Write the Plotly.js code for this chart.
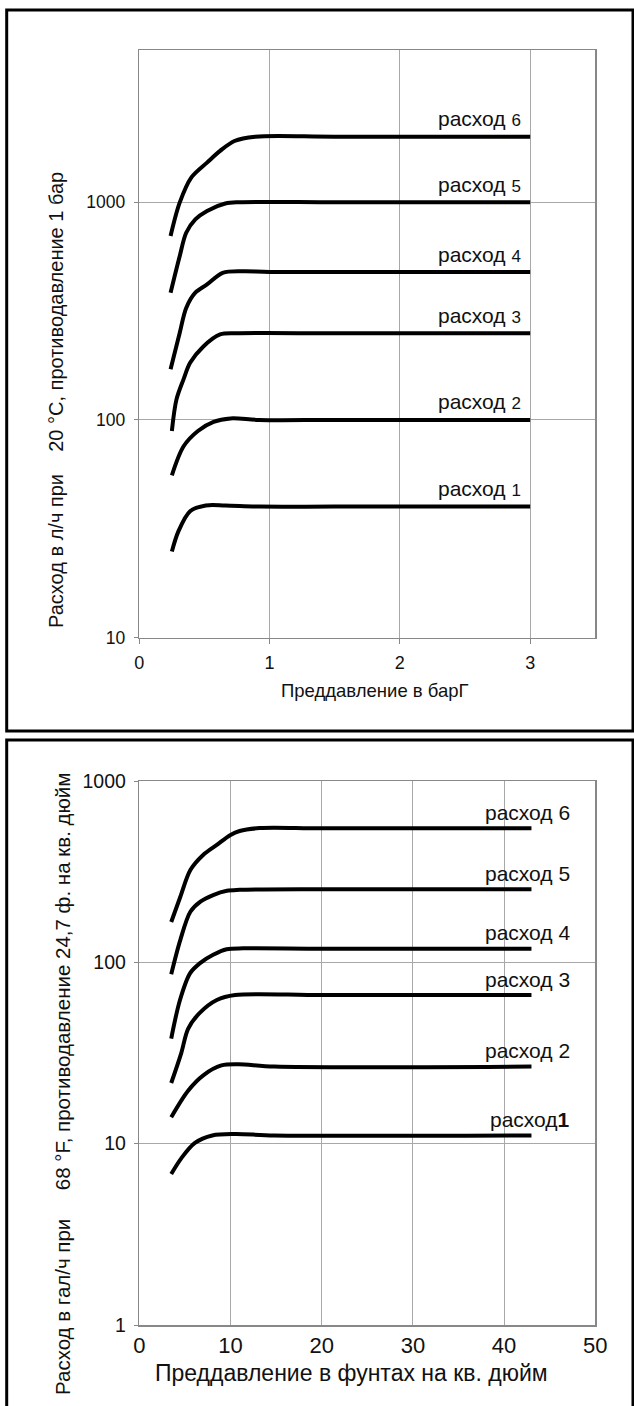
<!DOCTYPE html>
<html>
<head>
<meta charset="utf-8">
<script src="https://cdn.plot.ly/plotly-3.0.1.min.js"></script>
<style>
html,body{margin:0;padding:0;background:#fff;}
#chart{width:634px;height:1406px;}
</style>
</head>
<body>
<div id="chart"></div>
<script>
// ---------- DATA: top chart (bar vs l/h) ----------
const barX1 = [0.25, 0.30, 0.39, 0.51, 0.66, 0.92, 1.5, 3.0];
const lph1  = [24.9, 30.8, 38.1, 40.5, 40.5, 40, 40, 40];
const barX2 = [0.25, 0.34, 0.45, 0.57, 0.70, 0.92, 1.5, 3.0];
const lph2  = [55.7, 75.7, 89, 98, 101.6, 100, 100, 100];
const barX3 = [0.25, 0.285, 0.34, 0.39, 0.49, 0.62, 0.77, 1.5, 3.0];
const lph3  = [89, 124, 154, 183, 217, 247, 250, 250, 250];
const barX4 = [0.24, 0.31, 0.36, 0.43, 0.52, 0.64, 0.80, 1.0, 3.0];
const lph4  = [171, 251, 327, 384, 419, 474, 482, 478, 478];
const barX5 = [0.24, 0.31, 0.36, 0.43, 0.52, 0.66, 0.77, 1.5, 3.0];
const lph5  = [384, 565, 724, 834, 912, 986, 1000, 1000, 1000];
const barX6 = [0.24, 0.31, 0.40, 0.52, 0.62, 0.73, 0.89, 1.5, 3.0];
const lph6  = [700, 995, 1300, 1520, 1720, 1910, 2000, 2000, 2000];

// ---------- DATA: bottom chart (psi vs gal/h) ----------
const psiX1 = [3.5, 4.6, 6.1, 8.0, 10.5, 14.8, 43];
const gph1  = [6.8, 8.3, 10.1, 11.1, 11.3, 11.1, 11.1];
const psiX2 = [3.5, 5.35, 7.05, 9.0, 10.9, 14.8, 43];
const gph2  = [14.0, 19.6, 23.9, 27, 27.4, 26.6, 26.6];
const psiX3 = [3.5, 4.6, 5.35, 6.6, 8.5, 10.5, 20, 43];
const gph3  = [21.6, 31.6, 43, 52.5, 62, 66, 66, 66];
const psiX4 = [3.5, 4.46, 5.56, 6.66, 8.1, 9.58, 11.4, 20, 43];
const gph4  = [38, 62, 87, 99, 110, 118, 119.5, 119, 119];
const psiX5 = [3.5, 4.5, 5.6, 6.7, 8.1, 9.6, 11.0, 20, 43];
const gph5  = [86, 133, 190, 216, 235, 248, 251, 253, 253];
const psiX6 = [3.5, 4.5, 5.6, 7.0, 8.5, 10.0, 11.0, 13.2, 20, 43];
const gph6  = [167, 230, 323, 391, 444, 504, 530, 550, 548, 548];

// ---------- tick labels & texts ----------
const barTicks = [0, 1, 2, 3];
const lphTicks = [10, 100, 1000];
const psiTicks = [0, 10, 20, 30, 40, 50];
const gphTicks = [1, 10, 100, 1000];
const flowWord = 'расход';
const flowDigits = ['1', '2', '3', '4', '5', '6'];
const topXTitle = 'Преддавление в барГ';
const topYTitle = 'Расход в л/ч при\u00A0\u00A0\u00A0 20 °С, противодавление 1 бар';
const botXTitle = 'Преддавление в фунтах на кв. дюйм';
const botYTitle = 'Расход в гал/ч при\u00A0\u00A0\u00A0\u00A0 68 °F, противодавление 24,7 ф. на кв. дюйм';

// ---------- layout helpers (pixel -> paper) ----------
const W = 634, H = 1406;
const px = v => v / W;
const py = v => 1 - v / H;
const FONT = 'Liberation Sans, Arial, sans-serif';

const topSeries = [[barX1, lph1], [barX2, lph2], [barX3, lph3], [barX4, lph4], [barX5, lph5], [barX6, lph6]];
const botSeries = [[psiX1, gph1], [psiX2, gph2], [psiX3, gph3], [psiX4, gph4], [psiX5, gph5], [psiX6, gph6]];

const lineStyle = {color: '#000', width: 4, shape: 'spline', smoothing: 0.9};
const traces = [];
topSeries.forEach(s => traces.push({x: s[0], y: s[1], xaxis: 'x', yaxis: 'y', mode: 'lines', line: lineStyle, hoverinfo: 'skip', showlegend: false}));
botSeries.forEach(s => traces.push({x: s[0], y: s[1], xaxis: 'x2', yaxis: 'y2', mode: 'lines', line: lineStyle, hoverinfo: 'skip', showlegend: false}));

const annotations = [];
topSeries.forEach((s, i) => {
  annotations.push({
    xref: 'x', yref: 'y', x: s[0][s[0].length - 1], y: Math.log10(s[1][s[1].length - 1]),
    text: flowWord + ' <span style="font-size:17px">' + flowDigits[i] + '</span>',
    showarrow: false, xanchor: 'right', yanchor: 'middle', xshift: -7, yshift: 18,
    font: {family: FONT, size: 21, color: '#111'}
  });
});
botSeries.forEach((s, i) => {
  const txt = i === 0 ? flowWord + '<b>' + flowDigits[i] + '</b>' : flowWord + ' ' + flowDigits[i];
  annotations.push({
    xref: 'x2', yref: 'y2', x: s[0][s[0].length - 1], y: Math.log10(s[1][s[1].length - 1]),
    text: txt, showarrow: false, xanchor: 'right', yanchor: 'middle', xshift: 41, yshift: 16,
    font: {family: FONT, size: 21, color: '#111'}
  });
});
// axis titles
annotations.push({xref: 'paper', yref: 'paper', x: px(375), y: py(690), text: topXTitle, showarrow: false,
  xanchor: 'center', yanchor: 'middle', font: {family: FONT, size: 18.5, color: '#111'}});
annotations.push({xref: 'paper', yref: 'paper', x: px(56), y: py(400), text: topYTitle, showarrow: false, textangle: -90,
  xanchor: 'center', yanchor: 'middle', font: {family: FONT, size: 20, color: '#111'}});
annotations.push({xref: 'paper', yref: 'paper', x: px(351), y: py(1373), text: botXTitle, showarrow: false,
  xanchor: 'center', yanchor: 'middle', font: {family: FONT, size: 23, color: '#111'}});
annotations.push({xref: 'paper', yref: 'paper', x: px(62), y: py(1084), text: botYTitle, showarrow: false, textangle: -90,
  xanchor: 'center', yanchor: 'middle', font: {family: FONT, size: 20.5, color: '#111'}});

const GRID = '#a8a8a8', FRAME = '#888';
const baseAxis = {showgrid: true, gridcolor: GRID, gridwidth: 1, showline: true, mirror: true, linecolor: FRAME, linewidth: 1.5,
  zeroline: false, tickcolor: FRAME, fixedrange: true};

const layout = {
  width: W, height: H, margin: {l: 0, r: 0, t: 0, b: 0},
  paper_bgcolor: '#fff', plot_bgcolor: '#fff', showlegend: false,
  font: {family: FONT, color: '#111'},
  xaxis: Object.assign({}, baseAxis, {domain: [px(139.3), px(595.3)], anchor: 'y', range: [0, 3.5],
    tickvals: barTicks, ticktext: barTicks.map(String), ticks: 'outside', ticklen: 5, ticklabelstandoff: 3,
    tickfont: {family: FONT, size: 18, color: '#111'}}),
  yaxis: Object.assign({}, baseAxis, {domain: [py(637.7), py(50)], anchor: 'x', type: 'log', range: [1, Math.log10(5000)],
    tickvals: lphTicks, ticktext: lphTicks.map(String), ticks: 'outside', ticklen: 4, ticklabelstandoff: 5,
    tickfont: {family: FONT, size: 17.5, color: '#111'}}),
  xaxis2: Object.assign({}, baseAxis, {domain: [px(139.3), px(595.3)], anchor: 'y2', range: [0, 50],
    tickvals: psiTicks, ticktext: psiTicks.map(String), ticks: '', ticklabelstandoff: 0,
    tickfont: {family: FONT, size: 22, color: '#111'}}),
  xaxis3: {overlaying: 'x2', anchor: 'y2', range: [0, 3.5], tickvals: barTicks, ticks: 'outside', ticklen: 5, tickcolor: FRAME,
    showticklabels: false, showgrid: false, showline: false, zeroline: false, fixedrange: true},
  yaxis2: Object.assign({}, baseAxis, {domain: [py(1325), py(781)], anchor: 'x2', type: 'log', range: [0, 3],
    tickvals: gphTicks, ticktext: gphTicks.map(String), ticks: 'outside', ticklen: 4, ticklabelstandoff: 4,
    tickfont: {family: FONT, size: 19.5, color: '#111'}}),
  annotations: annotations,
  shapes: [
    {type: 'rect', xref: 'paper', yref: 'paper', x0: px(6.7), x1: px(633), y0: py(10), y1: py(731), line: {color: '#000', width: 3}},
    {type: 'rect', xref: 'paper', yref: 'paper', x0: px(6.7), x1: px(633), y0: py(740), y1: py(1415), line: {color: '#000', width: 3}}
  ]
};

Plotly.newPlot('chart', traces, layout, {staticPlot: true, displayModeBar: false});
</script>
</body>
</html>
